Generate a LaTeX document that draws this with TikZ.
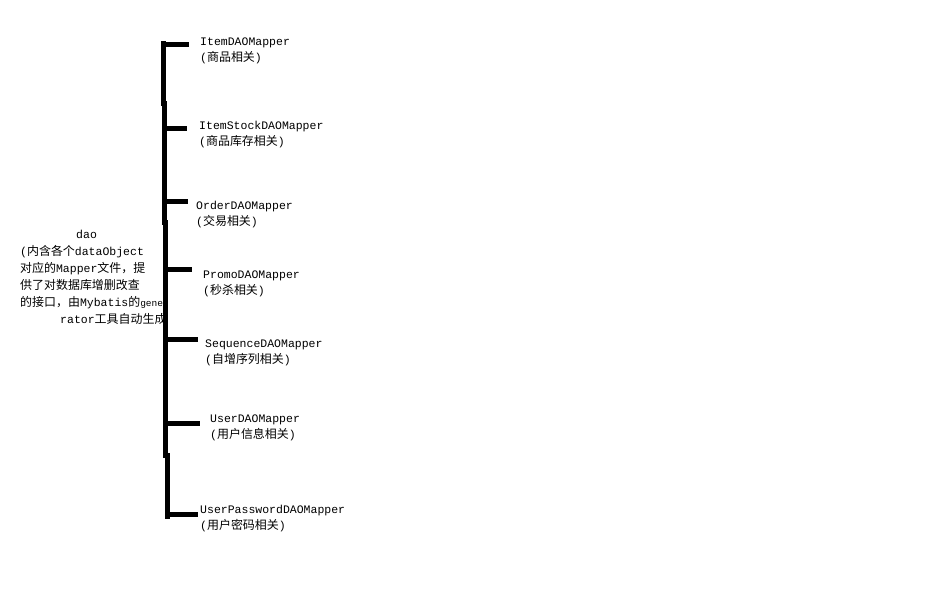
\documentclass[tikz,border=0pt]{standalone}
\usepackage{fontspec}
\setmainfont{Liberation Mono}
\newfontfamily\cjk{Noto Sans CJK SC}[Scale=1.04]
\newcommand{\gene}{{\fontsize{9.5}{9.5}\selectfont gene}}
\tikzset{
  mapper/.style={anchor=north west, inner sep=0pt, align=left,
                 font=\fontsize{11.5}{16}\selectfont},
  bar/.style={line width=5pt, line cap=rect}
}
\begin{document}
\begin{tikzpicture}[x=1pt,y=-1pt]
\useasboundingbox[fill=white] (0,0) rectangle (933,597);
% left description
\node[mapper, font=\fontsize{11.5}{17}\selectfont] (dao) at (20,230)
  {\hspace*{56pt}dao\\({\cjk 内含各个}dataObject\\{\cjk 对应的}Mapper{\cjk 文件，提}\\{\cjk 供了对数据库增删改查}\\{\cjk 的接口，由}Mybatis{\cjk 的}\gene\\\hspace*{40pt}rator{\cjk 工具自动生成}};
% mappers
\node[mapper] (item) at (200,38) {ItemDAOMapper\\({\cjk 商品相关})};
\node[mapper] (stock) at (199,121) {ItemStockDAOMapper\\({\cjk 商品库存相关})};
\node[mapper] (order) at (196,201) {OrderDAOMapper\\({\cjk 交易相关})};
\node[mapper] (promo) at (203,271) {PromoDAOMapper\\({\cjk 秒杀相关})};
\node[mapper] (seq) at (205,340) {SequenceDAOMapper\\({\cjk 自增序列相关})};
\node[mapper] (user) at (210,415) {UserDAOMapper\\({\cjk 用户信息相关})};
\node[mapper] (pwd) at (200,505) {UserPasswordDAOMapper\\({\cjk 用户密码相关})};
% spine
\coordinate (j1) at (163,44);
\coordinate (j2) at (164,128);
\coordinate (j3) at (164,201);
\coordinate (j4) at (165,269);
\coordinate (j5) at (165,339);
\coordinate (j6) at (166,423);
\coordinate (j7) at (167,514);
\draw[bar] (163,43) -- (163,103);
\draw[bar] (164,103) -- (164,222);
\draw[bar] (165,222) -- (165,455);
\draw[bar] (167,455) -- (167,516);
% branches
\draw[bar] (j1) -- ([xshift=-14pt]item.west |- j1);
\draw[bar] (j2) -- ([xshift=-15pt]stock.west |- j2);
\draw[bar] (j3) -- ([xshift=-11pt]order.west |- j3);
\draw[bar] (j4) -- ([xshift=-14pt]promo.west |- j4);
\draw[bar] (j5) -- ([xshift=-10pt]seq.west |- j5);
\draw[bar] (j6) -- ([xshift=-13pt]user.west |- j6);
\draw[bar] (j7) -- ([xshift=-5pt]pwd.west |- j7);
\end{tikzpicture}
\end{document}
